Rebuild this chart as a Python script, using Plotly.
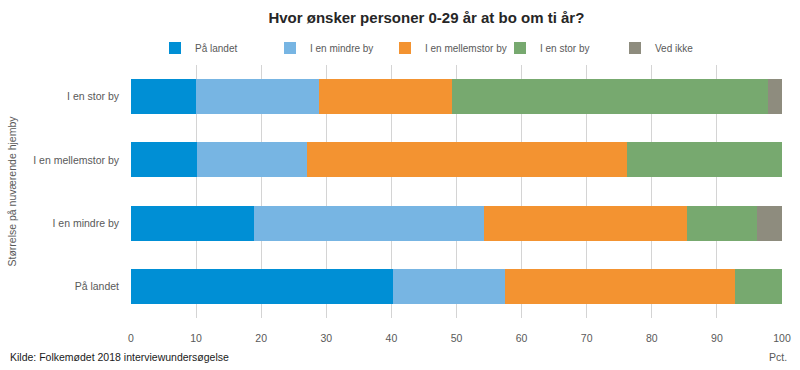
import plotly.graph_objects as go

categories = ["På landet", "I en mindre by", "I en mellemstor by", "I en stor by"]
series_names = ["På landet", "I en mindre by", "I en mellemstor by", "I en stor by", "Ved ikke"]
pa_landet = [40.2, 18.9, 10.2, 10.0]
mindre_by = [17.3, 35.3, 16.8, 18.9]
mellemstor_by = [35.3, 31.2, 49.2, 20.4]
stor_by = [7.2, 10.8, 23.8, 48.6]
ved_ikke = [0.0, 3.8, 0.0, 2.1]
x_ticks = [0, 10, 20, 30, 40, 50, 60, 70, 80, 90, 100]

colors = ["#008fd5", "#77b5e3", "#f39331", "#77a96f", "#8e8c7e"]
values = [pa_landet, mindre_by, mellemstor_by, stor_by, ved_ikke]

FONT = "Liberation Sans, Arial, sans-serif"
GREY = "#595959"

fig = go.Figure()
for name, vals, col in zip(series_names, values, colors):
    fig.add_trace(go.Bar(
        y=categories, x=vals, name=name, orientation="h",
        marker=dict(color=col, line=dict(width=0)),
        width=0.55,
    ))

fig.update_layout(
    barmode="stack",
    width=800, height=370,
    margin=dict(l=131, r=18, t=65, b=52, autoexpand=False),
    paper_bgcolor="white", plot_bgcolor="white",
    font=dict(family=FONT, size=10.5, color=GREY),
    title=dict(text="<b>Hvor ønsker personer 0-29 år at bo om ti år?</b>",
               x=0.533, xanchor="center", y=0.951, yanchor="middle",
               font=dict(family=FONT, size=15, color="#262626")),
    legend=dict(orientation="h", x=(155 - 131) / 651,
                xanchor="left", y=1 + (65 - 48) / 253, yanchor="middle",
                font=dict(family=FONT, size=10, color=GREY),
                traceorder="normal", itemwidth=30,
                entrywidthmode="pixels", entrywidth=70),
    xaxis=dict(range=[0, 100], tickvals=x_ticks, showgrid=True, gridcolor="#d4d4d4",
               gridwidth=1, zeroline=False, showline=False,
               ticks="outside", ticklen=10, tickcolor="white",
               tickfont=dict(family=FONT, size=10.5, color=GREY)),
    yaxis=dict(title=dict(text="Størrelse på nuværende hjemby", standoff=14,
                          font=dict(family=FONT, size=10.5, color=GREY)),
               showgrid=False, ticks="", ticklabelstandoff=11,
               tickfont=dict(family=FONT, size=10.5, color=GREY)),
    bargap=0.45,
)

fig.add_annotation(text="Kilde: Folkemødet 2018 interviewundersøgelse", xref="paper", yref="paper",
                   x=(8 - 131) / 651, y=(318 - 357) / 253, xanchor="left", yanchor="middle",
                   showarrow=False, font=dict(family=FONT, size=10.5, color="#1a1a1a"))
fig.add_annotation(text="Pct.", xref="paper", yref="paper",
                   x=(778 - 131) / 651, y=(318 - 357) / 253, xanchor="center", yanchor="middle",
                   showarrow=False, font=dict(family=FONT, size=10.5, color=GREY))

fig.write_html("out.html", config={"displayModeBar": False},
               post_script="document.body.style.margin='0';")
